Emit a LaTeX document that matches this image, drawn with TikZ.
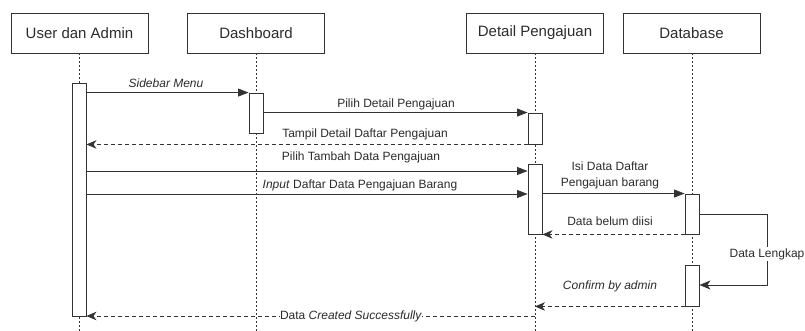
\documentclass[tikz,border=0pt]{standalone}
\usepackage{fontspec}
\setmainfont{Liberation Sans}
\usetikzlibrary{arrows.meta}
\definecolor{inkc}{HTML}{333333}
\definecolor{txtc}{HTML}{2B2B2B}

\begin{document}
\begin{tikzpicture}[x=1pt,y=-1pt,
  actor/.style={draw=inkc, line width=0.9pt, minimum width=137pt, minimum height=40pt,
    inner sep=0pt, text=txtc, font=\fontsize{15}{18}\selectfont},
  actbox/.style={draw=inkc, fill=white, line width=0.9pt, minimum width=14pt, inner sep=0pt},
  lifeline/.style={draw=inkc, line width=0.8pt, dash pattern=on 2pt off 2pt},
  msg/.style={draw=inkc, line width=0.8pt, -{Triangle[length=10.5pt,width=8pt]}},
  ret/.style={draw=inkc, line width=0.8pt, dash pattern=on 4pt off 3pt, -{Stealth[length=10pt,width=8.5pt,inset=3pt]}},
  lbl/.style={text=txtc, inner sep=1pt, font=\fontsize{12}{15}\selectfont},
]
\useasboundingbox (0,0) rectangle (805,331);

% participants
\node[actor] (ua)  at (79.5,33)  {User dan Admin};
\node[actor] (dsh) at (256,33)   {Dashboard};
\node[actor] (dp)  at (535,33)   {Detail Pengajuan};
\node[actor] (dbs) at (691.5,33) {Database};

% lifeline ends
\coordinate (uaEnd)  at (79,331);
\coordinate (dshEnd) at (256,331);
\coordinate (dpEnd)  at (535,331);
\coordinate (dbsEnd) at (692,331);
\draw[lifeline] (ua.south -| uaEnd) -- (uaEnd);
\draw[lifeline] (dsh.south) -- (dshEnd);
\draw[lifeline] (dp.south) -- (dpEnd);
\draw[lifeline] (dbs.south -| dbsEnd) -- (dbsEnd);

% activation bars
\node[actbox, minimum height=233pt] (a1) at (79,199.5) {};
\node[actbox, minimum height=40pt]  (a2) at (256,113)  {};
\node[actbox, minimum height=31pt]  (a3) at (535,128.5) {};
\node[actbox, minimum height=70pt]  (a4) at (535,199)  {};
\node[actbox, minimum height=40pt]  (a5) at (692,214)  {};
\node[actbox, minimum height=41pt]  (a6) at (692,285.5) {};

% message rows
\coordinate (r4) at (0,171);
\coordinate (r5) at (0,194);
\coordinate (loopTop) at (767,214);
\coordinate (loopBot) at (767,285);
\coordinate (r10) at (0,316);

% messages
\draw[msg] (a2.north west -| a1.east) -- (a2.north west);
\node[lbl, font=\fontsize{12}{15}\selectfont\itshape] (l1) at (166,83.5) {Sidebar Menu};

\draw[msg] (a3.north west -| a2.east) -- (a3.north west);
\node[lbl] (l2) at (396,104) {Pilih Detail Pengajuan};

\draw[ret] (a3.south west) -- (a3.south west -| a1.east);
\node[lbl] (l3) at (365,134) {Tampil Detail Daftar Pengajuan};

\draw[msg] (a1.east |- r4) -- (a4.west |- r4);
\node[lbl] (l4) at (361,157) {Pilih Tambah Data Pengajuan};

\draw[msg] (a1.east |- r5) -- (a4.west |- r5);
\node[lbl] (l5) at (360,185) {\textit{Input} Daftar Data Pengajuan Barang};

\draw[msg] (a4.east |- a5.north west) -- (a5.north west);
\node[lbl, align=center, font=\fontsize{12}{16}\selectfont] (l6) at (610,175) {Isi Data Daftar\\Pengajuan barang};

\draw[ret] (a5.south west) -- (a5.south west -| a4.east);
\node[lbl] (l7) at (610,221) {Data belum diisi};

% self call on the database
\draw[draw=inkc, line width=0.8pt, -{Stealth[length=11pt,width=9pt,inset=3pt]}]
  (a5.east |- loopTop) -- (loopTop) -- (loopBot) -- (a6.east |- loopBot);
\node[lbl, fill=white] (l8) at (767,254) {Data Lengkap};

\draw[ret] (a6.south west) -- (a6.south west -| dpEnd);
\node[lbl, font=\fontsize{12}{15}\selectfont\itshape] (l9) at (610,286) {Confirm by admin};

\draw[ret] (dpEnd |- r10) -- (a1.east |- r10);
\node[lbl, fill=white, inner xsep=0pt] (l10) at (351,316) {Data \textit{Created Successfully}};
\end{tikzpicture}
\end{document}
